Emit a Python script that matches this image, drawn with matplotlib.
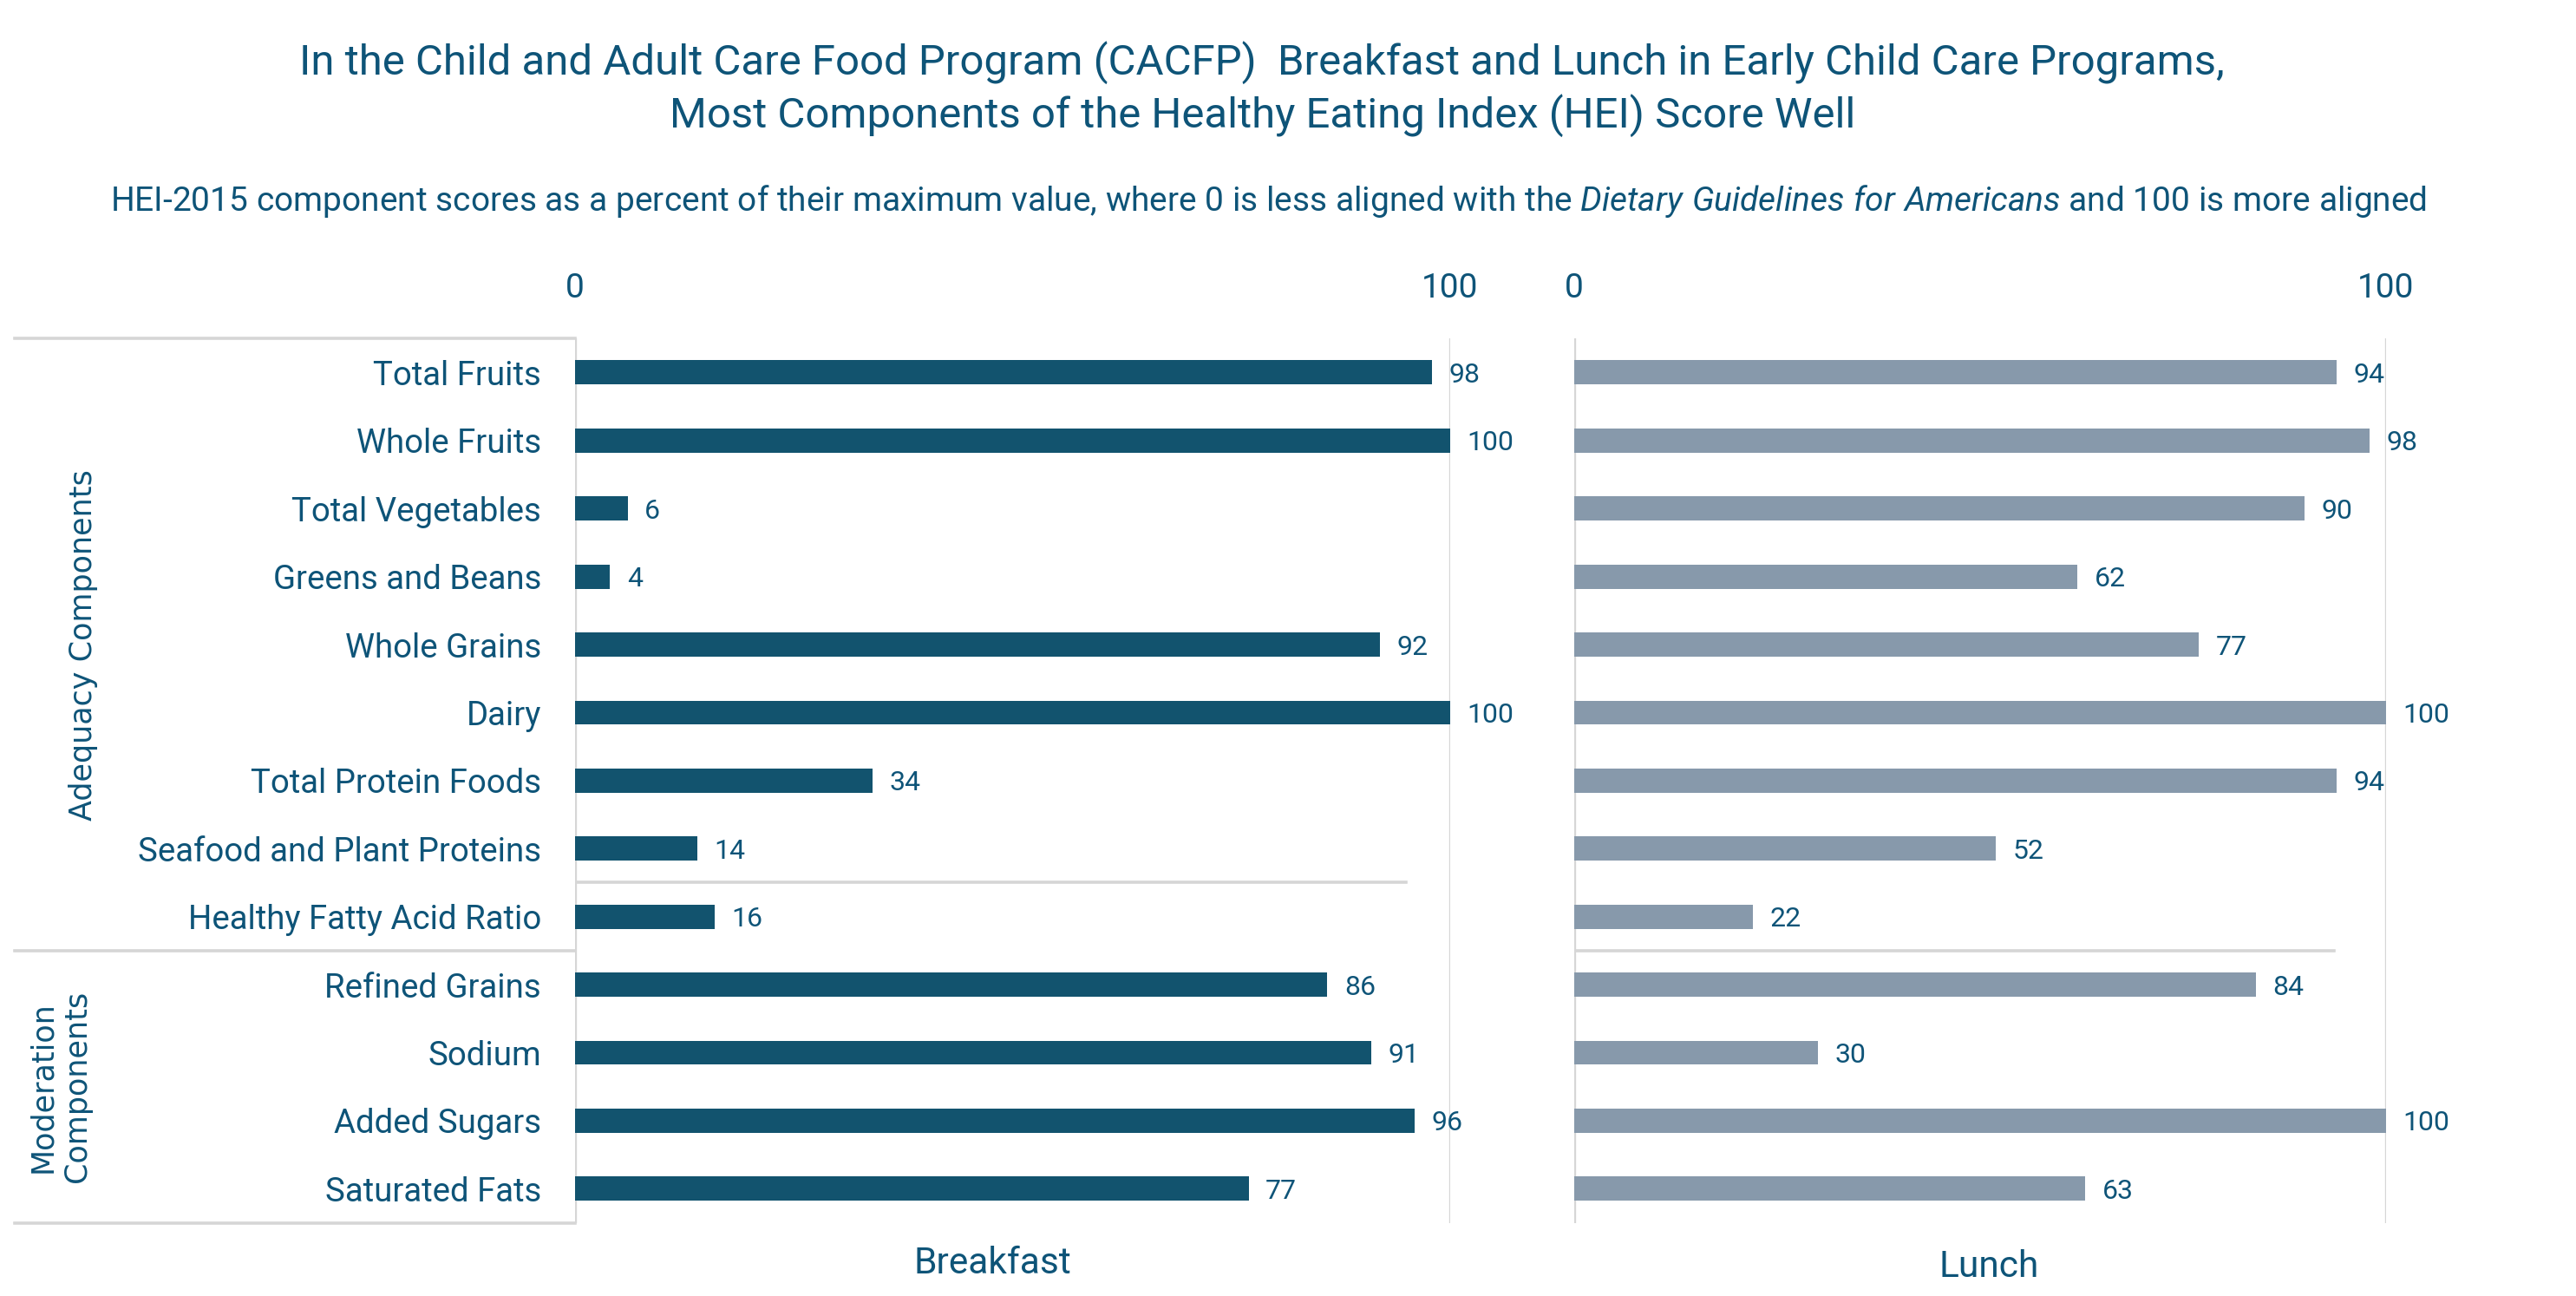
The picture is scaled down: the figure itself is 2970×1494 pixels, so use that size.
import matplotlib
matplotlib.use("Agg")
import matplotlib.pyplot as plt
from matplotlib.lines import Line2D

plt.rcParams['font.family'] = ['Roboto', 'DejaVu Sans']
plt.rcParams['mathtext.fontset'] = 'custom'
plt.rcParams['mathtext.rm'] = 'Roboto'
plt.rcParams['mathtext.it'] = 'Roboto:italic'

categories = ["Total Fruits", "Whole Fruits", "Total Vegetables", "Greens and Beans",
              "Whole Grains", "Dairy", "Total Protein Foods", "Seafood and Plant Proteins",
              "Healthy Fatty Acid Ratio", "Refined Grains", "Sodium", "Added Sugars",
              "Saturated Fats"]
breakfast = [98, 100, 6, 4, 92, 100, 34, 14, 16, 86, 91, 96, 77]
lunch = [94, 98, 90, 62, 77, 100, 94, 52, 22, 84, 30, 100, 63]
groups = ["Adequacy Components", "Moderation\nComponents"]

text_col = "#0E5478"
grid_col = "#D6D6D6"
bf_col = "#12536E"
lu_col = "#8799AB"

W, H = 2970, 1494
fig = plt.figure(figsize=(W / 200, H / 200), dpi=200)

top_px, bot_px = 390.2, 1409.5
ax_b = fig.add_axes([663 / W, 1 - bot_px / H, 1008.5 / W, (bot_px - top_px) / H])
ax_l = fig.add_axes([1815 / W, 1 - bot_px / H, 935.5 / W, (bot_px - top_px) / H])

y = list(range(len(categories)))
n = len(categories)

for ax, vals, col in [(ax_b, breakfast, bf_col), (ax_l, lunch, lu_col)]:
    bars = ax.barh(y, vals, height=0.355, color=col, zorder=3)
    labels = ax.bar_label(bars, padding=7, fontsize=11.5, color=text_col)
    for t in labels:
        t.set_va('center_baseline')
    ax.set_xlim(0, 100)
    ax.set_ylim(n - 0.5, -0.5)
    ax.xaxis.tick_top()
    ax.set_xticks([0, 100])
    ax.tick_params(axis='x', length=0, pad=14, labelsize=14, labelcolor=text_col)
    for s in ax.spines.values():
        s.set_visible(False)
    ax.axvline(100, color=grid_col, lw=1.2, zorder=1)
    ax.axvline(0, color=grid_col, lw=1.2, zorder=1)

ax_b.set_yticks(y)
ax_b.set_yticklabels(categories)
ax_b.tick_params(axis='y', length=0, pad=14, labelsize=13.8, labelcolor=text_col)
ax_l.set_yticks([])

# stray separator lines inside the panels
ax_b.plot([0, 95], [7.5, 7.5], color=grid_col, lw=1.3, zorder=2)
ax_l.plot([0, 93.6], [8.5, 8.5], color=grid_col, lw=1.3, zorder=2)

# category box on the left
x0, x1 = 17 / W, 663 / W
sep_px = 1096
for ypx in [top_px, sep_px, bot_px]:
    fig.add_artist(Line2D([x0, x1], [1 - ypx / H, 1 - ypx / H], color=grid_col, lw=1.3))

fig.text(96 / W, 1 - (top_px + sep_px) / 2 / H, groups[0], rotation=90, ha='center', va='center',
         fontsize=12.6, color=text_col, family='DejaVu Sans')
fig.text(69 / W, 1 - (sep_px + bot_px) / 2 / H, groups[1], rotation=90, ha='center', va='center',
         fontsize=12.6, color=text_col, family='DejaVu Sans', multialignment='center')

fig.text(0.49, 1 - 72 / H, "In the Child and Adult Care Food Program (CACFP)  Breakfast and Lunch in Early Child Care Programs,",
         ha='center', va='center', fontsize=17.7, color=text_col)
fig.text(0.49, 1 - 133 / H, "Most Components of the Healthy Eating Index (HEI) Score Well",
         ha='center', va='center', fontsize=17.7, color=text_col)
fig.text(0.4926, 1 - 232 / H,
         r"HEI-2015 component scores as a percent of their maximum value, where 0 is less aligned with the "
         r"$\it{Dietary\ Guidelines\ for\ Americans}$ and 100 is more aligned",
         ha='center', va='center', fontsize=14, color=text_col)

fig.text(1144 / W, 1 - 1457 / H, "Breakfast", ha='center', va='center', fontsize=15.3, color=text_col)
fig.text(2293 / W, 1 - 1460 / H, "Lunch", ha='center', va='center', fontsize=15.3, color=text_col)

fig.savefig("out.png", dpi=200, facecolor="white")
